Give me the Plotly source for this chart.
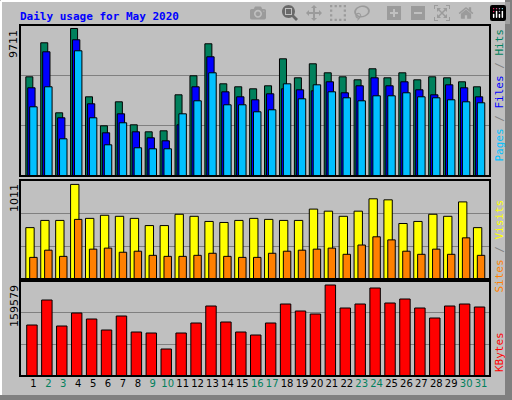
import plotly.graph_objects as go

days = list(range(1, 32))
weekend = [2, 3, 9, 10, 16, 17, 23, 24, 30, 31]

hits = [6531, 8770, 4161, 9711, 5214, 3305, 4885, 3371, 2910, 2976, 5346, 6597, 8704, 6070, 5873, 5741,
        5939, 7716, 6465, 7387, 6794, 6531, 6333, 7058, 6465, 6794, 6333, 6531, 6465, 6202, 5873]
files = [5807, 8177, 3832, 8967, 4754, 2844, 4095, 2910, 2515, 2317, 3371, 5873, 7848, 5543, 5214, 5017,
         5412, 5741, 5675, 5609, 6202, 5478, 5939, 6465, 5939, 6202, 5675, 5346, 6004, 5807, 5214]
pages = [4556, 5873, 2449, 8243, 3832, 2054, 3503, 1857, 1791, 1791, 4095, 4951, 6794, 4688, 4688, 4227,
         4359, 6070, 5082, 6004, 5543, 5148, 4951, 5280, 5280, 5478, 5214, 5148, 5017, 4885, 4820]
sites = [549, 626, 626, 1011, 648, 681, 670, 648, 571, 571, 692, 670, 615, 604, 626, 648,
         637, 626, 626, 747, 725, 670, 725, 857, 846, 593, 615, 692, 670, 824, 549]
visits = [231, 308, 242, 637, 319, 330, 286, 297, 253, 242, 242, 253, 275, 242, 231, 231,
          275, 297, 308, 319, 330, 264, 363, 451, 418, 297, 264, 319, 264, 440, 253]
kbytes = [89430, 133266, 87675, 110471, 99950, 80661, 105210, 77154, 75401, 47345, 75401, 92936, 122745,
          94689, 77154, 71894, 92936, 126252, 113978, 108717, 159579, 119238, 126252, 154308, 128006,
          135020, 119238, 101703, 122745, 126252, 120992]

GRAY = "#c0c0c0"
MONO = "DejaVu Sans Mono"

def px(x):
    return (x - 20) / 470

def py(y):
    return (376 - y) / 351

fig = go.Figure()

def bars(vals, color, offset, width, axis):
    fig.add_trace(go.Bar(x=days, y=vals, marker=dict(color=color, line=dict(color="black", width=1)),
                         offset=offset, width=width, xaxis="x", yaxis=axis, showlegend=False))

bars(hits, "#00805c", -0.51, 0.47, "y")
bars(files, "#0000ff", -0.38, 0.49, "y")
bars(pages, "#00c0ff", -0.25, 0.5, "y")
bars(sites, "#ffff00", -0.51, 0.56, "y2")
bars(visits, "#ff8000", -0.25, 0.5, "y2")
bars(kbytes, "#ff0000", -0.45, 0.7, "y3")

r1, r2, r3 = 9941, 1058, 166600
ticktext = [f'<span style="color:{"#00805c" if d in weekend else "black"}">{d}</span>' for d in days]

def yax(dom, rng):
    return dict(domain=dom, range=[0, rng], tickvals=[rng / 3, 2 * rng / 3], showticklabels=False,
                showgrid=True, gridcolor="#808080", gridwidth=1, zeroline=False, ticks="", fixedrange=True)

fig.update_layout(
    width=512, height=400, barmode="overlay",
    paper_bgcolor=GRAY, plot_bgcolor=GRAY,
    margin=dict(l=20, r=22, t=25, b=24, pad=0),
    xaxis=dict(range=[0.1, 31.6], tickvals=days, ticktext=ticktext, ticks="", showgrid=False, tickangle=0,
               zeroline=False, tickfont=dict(family="DejaVu Sans", size=10, color="black"), anchor="y3"),
    yaxis=yax([py(176), 1], r1),
    yaxis2=yax([py(279), py(180)], r2),
    yaxis3=yax([0, py(281)], r3),
    font=dict(family=MONO),
)

shapes = []
for y0, y1 in [(25, 176), (180, 279), (281, 376)]:
    shapes.append(dict(type="rect", xref="paper", yref="paper", x0=0, x1=1, y0=py(y1), y1=py(y0),
                       line=dict(color="black", width=2), layer="above"))
# bevel frame
shapes.append(dict(type="line", xref="paper", yref="paper", x0=px(1), x1=px(1), y0=py(395), y1=py(1),
                   line=dict(color="white", width=2)))
shapes.append(dict(type="line", xref="paper", yref="paper", x0=px(1), x1=px(505), y0=py(1), y1=py(1),
                   line=dict(color="white", width=2)))
shapes.append(dict(type="rect", xref="paper", yref="paper", x0=px(505), x1=px(512), y0=py(400), y1=py(0),
                   fillcolor="#808080", line=dict(width=0)))
shapes.append(dict(type="rect", xref="paper", yref="paper", x0=px(0), x1=px(512), y0=py(400), y1=py(395),
                   fillcolor="#808080", line=dict(width=0)))
fig.update_layout(shapes=shapes)

ann = [
    dict(text="<b>Daily usage for May 2020</b>", x=px(18), y=py(8), xanchor="left", yanchor="top",
         font=dict(family=MONO, size=11, color="#0000ff")),
    dict(text="9711", x=px(14), y=py(28), xanchor="center", yanchor="top", textangle=-90,
         font=dict(family="DejaVu Sans", size=11, color="black")),
    dict(text="1011", x=px(14), y=py(182), xanchor="center", yanchor="top", textangle=-90,
         font=dict(family="DejaVu Sans", size=11, color="black")),
    dict(text="159579", x=px(14), y=py(283), xanchor="center", yanchor="top", textangle=-90,
         font=dict(family="DejaVu Sans", size=11, color="black")),
    dict(text='<span style="color:#00c0ff">Pages</span><span style="color:#808080"> / </span>'
              '<span style="color:#0000ff">Files</span><span style="color:#808080"> / </span>'
              '<span style="color:#00805c">Hits</span>',
         x=px(499), y=py(27), xanchor="center", yanchor="top", textangle=-90,
         font=dict(family=MONO, size=11)),
    dict(text='<span style="color:#ff8000">Sites</span><span style="color:#808080"> / </span>'
              '<span style="color:#ffff00">Visits</span>',
         x=px(499), y=py(198), xanchor="center", yanchor="top", textangle=-90,
         font=dict(family=MONO, size=11)),
    dict(text='<span style="color:#ff0000">KBytes</span>',
         x=px(499), y=py(374), xanchor="center", yanchor="bottom", textangle=-90,
         font=dict(family=MONO, size=11)),
]
for a in ann:
    a.update(xref="paper", yref="paper", showarrow=False)
fig.update_layout(annotations=ann)

fig.write_html("out.html", post_script="document.body.style.margin='0';")
